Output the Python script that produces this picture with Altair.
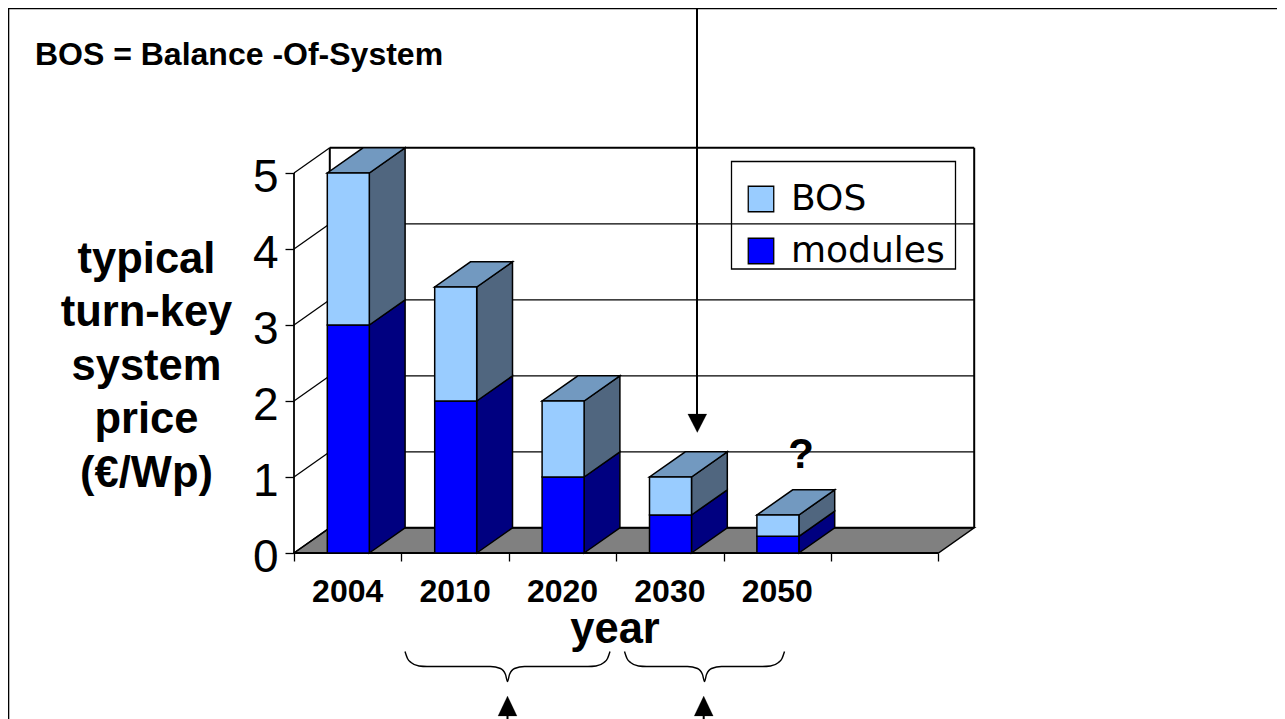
import altair as alt
import pandas as pd

# ---- values
years = ["2004", "2010", "2020", "2030", "2050"]
modules = [3.0, 2.0, 1.0, 0.5, 0.22]
bos = [2.0, 1.5, 1.0, 0.5, 0.28]
y_levels = [0, 1, 2, 3, 4, 5]
x_slots = [0, 1, 2, 3, 4, 5, 6]
series_names = ["BOS", "modules"]
series_colors = ["#99CCFF", "#0000FF"]
side_colors = {"BOS": "#50667F", "modules": "#000080"}
top_color = "#7299C0"
floor_color = "#808080"
ylabel_lines = ["typical", "turn-key", "system", "price", "(€/Wp)"]

# ---- plot scale set-up (canvas pixels <-> data units)
W, H = 1269, 711
PX0, PXU = 294.0, 107.4   # page x of slot 0, pixels per slot
PY0, PYU = 553.0, 76.0    # page y of value 0, pixels per unit
def X(px): return (px - PX0) / PXU
def Y(py): return (PY0 - py) / PYU
xscale = alt.Scale(domain=[X(8), X(8 + W)], range=[0, W], nice=False, zero=False)
yscale = alt.Scale(domain=[Y(8 + H), Y(8)], range=[H, 0], nice=False, zero=False)
DX, DY = 35.8 / PXU, 25.2 / PYU       # depth of the 3-D effect
BW = 42.0 / PXU                        # bar width
GAP = 33.3 / PXU                       # slot margin

xe = alt.X("x:Q", scale=xscale, axis=None)
ye = alt.Y("y:Q", scale=yscale, axis=None, stack=False)

def parallelogram(name, x0, x1, yv):
    "horizontal face: front edge x0..x1 at value yv, back edge shifted by depth"
    return [
        dict(face=name, x=x0, y=yv, y2=yv),
        dict(face=name, x=x0 + DX, y=yv, y2=yv + DY),
        dict(face=name, x=x1, y=yv, y2=yv + DY),
        dict(face=name, x=x1 + DX, y=yv + DY, y2=yv + DY),
    ]

def side(name, x1, lo, hi):
    return [
        dict(face=name, x=x1, y=lo, y2=hi),
        dict(face=name, x=x1 + DX, y=lo + DY, y2=hi + DY),
    ]

def face_layer(rows, fill, sw=1.5, stroke="black"):
    return alt.Chart(pd.DataFrame(rows)).mark_area(
        fill=fill, stroke=stroke, strokeWidth=sw, orient="vertical", opacity=1, line=False
    ).encode(x=xe, y=ye, y2=alt.Y2("y2:Q"), detail="face:N")

def segs(rows, sw=1.2, color="black"):
    "straight segments given as x, y, x2, y2"
    return alt.Chart(pd.DataFrame(rows)).mark_rule(color=color, strokeWidth=sw).encode(
        x=alt.X("x:Q", scale=xscale, axis=None),
        y=alt.Y("y:Q", scale=yscale, axis=None),
        x2="x2:Q", y2="y2:Q",
    )

def label(rows, size, font="Liberation Sans", weight="bold", align="center"):
    return alt.Chart(pd.DataFrame(rows)).mark_text(
        font=font, fontSize=size, fontWeight=weight, align=align, baseline="alphabetic", color="black"
    ).encode(x=alt.X("x:Q", scale=xscale, axis=None),
             y=alt.Y("y:Q", scale=yscale, axis=None), text="t:N")

layers = []

# outer frame
layers.append(segs([
    dict(x=X(8.5), y=Y(8), x2=X(8.5), y2=Y(719)),
    dict(x=X(8.5), y=Y(8.5), x2=X(1285), y2=Y(8.5)),
], sw=1.6))

# real axes: ticks and value labels
axis_layer = alt.Chart(pd.DataFrame({"x": [0.0], "y": [0.0]})).mark_point(opacity=0).encode(
    x=alt.X("x:Q", scale=xscale, title=None, axis=alt.Axis(
        values=x_slots, labels=False, domain=False, grid=False, tickSize=8,
        tickColor="black", tickWidth=1.3, offset=553 - (8 + H))),
    y=alt.Y("y:Q", scale=yscale, title=None, axis=alt.Axis(
        values=y_levels, domain=False, grid=False, tickSize=9, tickColor="black", tickWidth=1.3,
        labelFont="Liberation Sans", labelFontSize=46, labelColor="black", labelPadding=7,
        labelOffset=4, offset=8 - 294, labelFlush=False, labelOverlap=False, format="d")),
)
layers.append(axis_layer)

# floor
layers.append(face_layer(parallelogram("floor", 0, x_slots[-1], 0), floor_color))

# back wall grid and walls
layers.append(segs(
    [dict(x=DX, y=v + DY, x2=x_slots[-1] + DX, y2=v + DY) for v in y_levels[1:-1]], sw=1.3))
layers.append(segs(
    [dict(x=0, y=v, x2=DX, y2=v + DY) for v in y_levels], sw=1.3))
layers.append(segs([
    dict(x=DX, y=5 + DY, x2=x_slots[-1] + DX, y2=5 + DY),
    dict(x=DX, y=DY, x2=DX, y2=5 + DY),
    dict(x=x_slots[-1] + DX, y=DY, x2=x_slots[-1] + DX, y2=5 + DY),
    dict(x=DX, y=DY, x2=x_slots[-1] + DX, y2=DY),
], sw=2))
layers.append(segs([
    dict(x=0, y=0, x2=0, y2=5),
    dict(x=0, y=0, x2=x_slots[-1], y2=0),
], sw=1.8))

# bars
front_rows, side_m, side_b, tops = [], [], [], []
for i, (m, b) in enumerate(zip(modules, bos)):
    x0 = i + GAP
    x1 = x0 + BW
    front_rows += [dict(face=f"m{i}", series="modules", x=x0, y=0, y2=m),
                   dict(face=f"m{i}", series="modules", x=x1, y=0, y2=m),
                   dict(face=f"b{i}", series="BOS", x=x0, y=m, y2=m + b),
                   dict(face=f"b{i}", series="BOS", x=x1, y=m, y2=m + b)]
    side_m += side(f"sm{i}", x1, 0, m)
    side_b += side(f"sb{i}", x1, m, m + b)
    tops += parallelogram(f"t{i}", x0, x1, m + b)

layers.append(face_layer(side_m, side_colors["modules"]))
layers.append(face_layer(side_b, side_colors["BOS"]))
layers.append(face_layer(tops, top_color))
layers.append(alt.Chart(pd.DataFrame(front_rows)).mark_area(
    stroke="black", strokeWidth=1.5, orient="vertical", opacity=1).encode(
    x=xe, y=ye, y2=alt.Y2("y2:Q"), detail="face:N",
    fill=alt.Fill("series:N", scale=alt.Scale(domain=series_names, range=series_colors),
                  legend=alt.Legend(
                      title=None, orient="none", legendX=743 - 8, legendY=181 - 8,
                      padding=0, symbolType="square", symbolSize=650,
                      symbolStrokeColor="black", symbolStrokeWidth=1.3, symbolOpacity=1,
                      labelFont="DejaVu Sans", labelFontSize=36, labelColor="black",
                      labelOffset=12, rowPadding=16, labelLimit=400)),
))
# legend box
layers.append(alt.Chart(pd.DataFrame([dict(x=X(731.5), x2=X(955.5), y=Y(161.5), y2=Y(269))])).mark_rect(
    filled=False, stroke="black", strokeWidth=1.3).encode(
    x=alt.X("x:Q", scale=xscale, axis=None), x2="x2:Q",
    y=alt.Y("y:Q", scale=yscale, axis=None), y2="y2:Q"))

# text
layers.append(label([dict(x=X(239), y=Y(65), t="BOS = Balance -Of-System")], 32))
layers.append(label([dict(x=i + 0.5, y=Y(601.7), t=t) for i, t in enumerate(years)], 32))
layers.append(label([dict(x=X(615), y=Y(643.3), t="year")], 43.5))
layers.append(label([dict(x=X(801), y=Y(468.3), t="?")], 42))
layers.append(label([dict(x=X(146.5), y=Y(273 + 53.4 * i), t=t)
                     for i, t in enumerate(ylabel_lines)], 43.5))

# arrows
layers.append(segs([
    dict(x=X(697), y=Y(8), x2=X(697), y2=Y(416)),
    dict(x=X(507.5), y=Y(714), x2=X(507.5), y2=Y(719)),
    dict(x=X(703.7), y=Y(714), x2=X(703.7), y2=Y(719)),
], sw=2))
arrow_rows = []
for name, cx, base, tip in [("a1", 697.3, 414, 432.5), ("a2", 507.5, 716, 696), ("a3", 703.7, 716, 696)]:
    arrow_rows += [dict(face=name, x=X(cx - 9.5), y=Y(base), y2=Y(base)),
                   dict(face=name, x=X(cx), y=Y(base), y2=Y(tip)),
                   dict(face=name, x=X(cx + 9.5), y=Y(base), y2=Y(base))]
layers.append(face_layer(arrow_rows, "black", sw=0.2))

# curly braces
end_curve = [(0, 0), (2.5, 7), (6, 11), (14, 14.5), (22, 15)]
mid_curve = [(-17, 15), (-7, 17), (-2, 23), (0, 30)]
brace_rows = []
for name, a, b in [("b1", 405, 610), ("b2", 624.5, 784.5)]:
    c = (a + b) / 2
    pts = [(a + o, d) for o, d in end_curve] + [(c + o, d) for o, d in mid_curve]
    pts += [(a + b - px, d) for px, d in reversed(pts[:-1])]
    brace_rows += [dict(b=name, o=k, x=X(px), y=Y(651.5 + d)) for k, (px, d) in enumerate(pts)]
layers.append(alt.Chart(pd.DataFrame(brace_rows)).mark_line(
    color="black", strokeWidth=1.4, interpolate="monotone").encode(
    x=alt.X("x:Q", scale=xscale, axis=None),
    y=alt.Y("y:Q", scale=yscale, axis=None),
    detail="b:N", order="o:Q"))

chart = alt.layer(*layers).resolve_axis(x="independent", y="independent").properties(
    width=W, height=H, padding=0, autosize=alt.AutoSizeParams(type="none"),
    background="white",
).configure_view(stroke=None)

chart.save("out.html", embed_options={"renderer": "svg", "actions": False})
